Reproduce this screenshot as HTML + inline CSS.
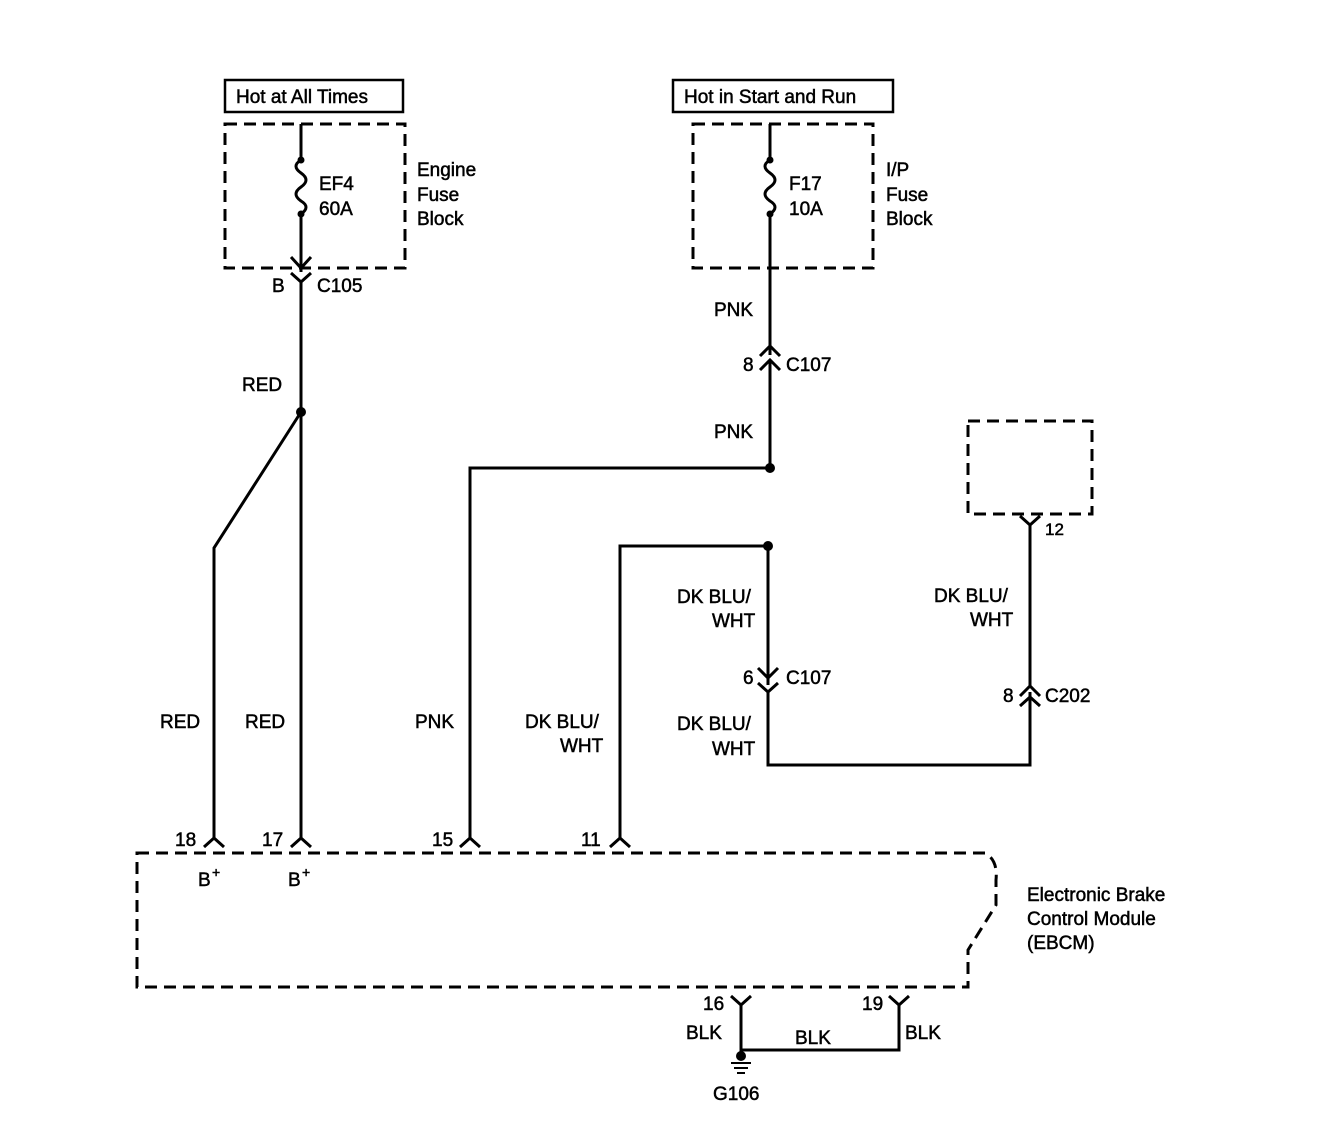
<!DOCTYPE html>
<html><head><style>
html,body{margin:0;padding:0;background:#fff;}
svg{display:block;}
text{font-family:"Liberation Sans",Arial,sans-serif;font-size:19px;fill:#000;stroke:#000;stroke-width:0.5;}
</style></head><body>
<svg width="1328" height="1148" viewBox="0 0 1328 1148" xmlns="http://www.w3.org/2000/svg">
<g fill="none" stroke="#000" stroke-width="3">
<rect x="225" y="80" width="178" height="32" stroke-width="2.5"/>
<rect x="673" y="80" width="220" height="32" stroke-width="2.5"/>
<g stroke-dasharray="12,7">
<rect x="225" y="124" width="180" height="144"/>
<rect x="693" y="124" width="180" height="144"/>
<rect x="968" y="421" width="124" height="93"/>
<path d="M137 853 H985 Q998 860 996 880 V905 L968 950 V987 H137 Z"/>
</g>
<path d="M301 124 V160 M301 160 q-10 6 0 13 q10 7 0 14 q-10 7 0 14 q10 6 0 13 M301 214 V272"/>
<path d="M291 257 L301 268 L311 257"/>
<path d="M291 273 L301 282 L311 273 M301 282 V838"/>
<path d="M301 412 L214 548 V838"/>
<path d="M770 124 V160 M770 160 q-10 6 0 13 q10 7 0 14 q-10 7 0 14 q10 6 0 13 M770 214 V355"/>
<path d="M760 356 L770 346 L780 356 M760 370 L770 360 L780 370 M770 360 V468 H470 V838"/>
<path d="M768 546 H620 V838"/>
<path d="M768 546 V685 M758 668 L768 678 L778 668 M758 683 L768 692 L778 683 M768 692 V765 H1030 V692"/>
<path d="M1020 696 L1030 686 L1040 696 M1020 706 L1030 697 L1040 706"/>
<path d="M1020 516 L1030 525 L1040 516 M1030 525 V687"/>
<path d="M204 847 L214 838 L224 847 M291 847 L301 838 L311 847 M460 847 L470 838 L480 847 M610 847 L620 838 L630 847"/>
<path d="M731 996 L741 1005 L751 996 M741 1005 V1050 H899 V1005 M889 996 L899 1005 L909 996"/>
<path d="M731 1063 H751 M734 1068 H748 M737 1073 H745" stroke-width="2"/>
</g>
<g fill="#000">
<circle cx="301" cy="160" r="3.5"/><circle cx="301" cy="214" r="3.5"/>
<circle cx="770" cy="160" r="3.5"/><circle cx="770" cy="214" r="3.5"/>
<circle cx="301" cy="412" r="5"/><circle cx="770" cy="468" r="5"/><circle cx="768" cy="546" r="5"/>
<circle cx="741" cy="1056" r="5"/>
</g>
<text x="236" y="103">Hot at All Times</text>
<text x="684" y="103">Hot in Start and Run</text>
<text x="319" y="190">EF4</text><text x="319" y="215">60A</text>
<text x="417" y="176">Engine</text><text x="417" y="201">Fuse</text><text x="417" y="225">Block</text>
<text x="789" y="190">F17</text><text x="789" y="215">10A</text>
<text x="886" y="176">I/P</text><text x="886" y="201">Fuse</text><text x="886" y="225">Block</text>
<text x="272" y="292">B</text><text x="317" y="292">C105</text>
<text x="242" y="391">RED</text>
<text x="714" y="316">PNK</text>
<text x="743" y="371">8</text><text x="786" y="371">C107</text>
<text x="714" y="438">PNK</text>
<text x="1045" y="535" style="font-size:17px">12</text>
<text x="677" y="603">DK BLU/</text><text x="712" y="627">WHT</text>
<text x="934" y="602">DK BLU/</text><text x="970" y="626">WHT</text>
<text x="743" y="684">6</text><text x="786" y="684">C107</text>
<text x="1003" y="702">8</text><text x="1045" y="702">C202</text>
<text x="677" y="730">DK BLU/</text><text x="712" y="755">WHT</text>
<text x="160" y="728">RED</text><text x="245" y="728">RED</text>
<text x="415" y="728">PNK</text>
<text x="525" y="728">DK BLU/</text><text x="560" y="752">WHT</text>
<text x="175" y="846">18</text><text x="262" y="846">17</text><text x="432" y="846">15</text><text x="581" y="846">11</text>
<text x="198" y="886">B</text><text x="212" y="877" style="font-size:14px">+</text>
<text x="288" y="886">B</text><text x="302" y="877" style="font-size:14px">+</text>
<text x="1027" y="901">Electronic Brake</text><text x="1027" y="925">Control Module</text><text x="1027" y="949">(EBCM)</text>
<text x="703" y="1010">16</text><text x="862" y="1010">19</text>
<text x="686" y="1039">BLK</text><text x="795" y="1044">BLK</text><text x="905" y="1039">BLK</text>
<text x="713" y="1100">G106</text>
</svg>
</body></html>
